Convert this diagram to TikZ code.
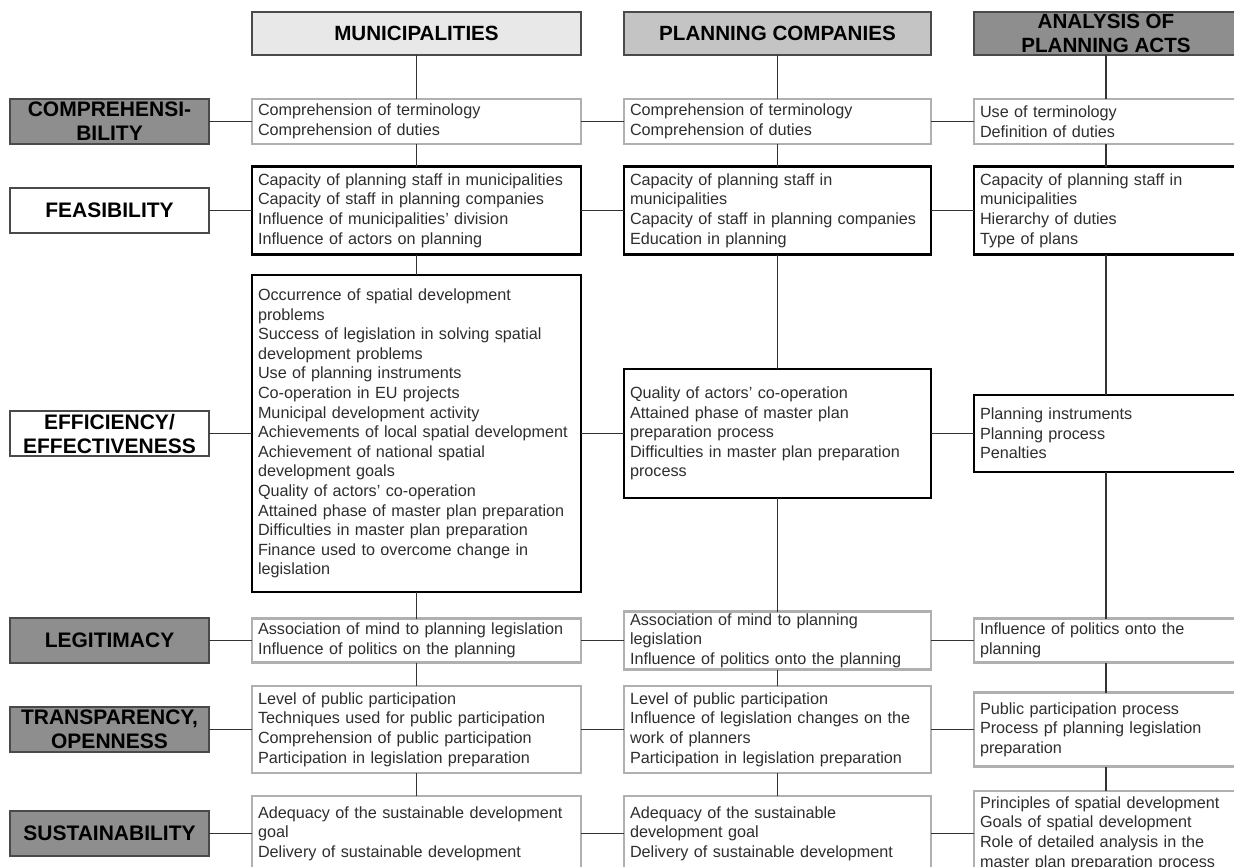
\documentclass[tikz,border=0pt]{standalone}
\usepackage{fontspec}
\setmainfont{Liberation Sans}
\usepackage{tikz}
\usetikzlibrary{positioning}
\usepackage{xcolor}
\definecolor{HeadLight}{HTML}{E8E8E8}
\definecolor{HeadMid}{HTML}{C4C4C4}
\definecolor{HeadDark}{HTML}{8E8E8E}
\definecolor{FrameDark}{HTML}{4A4A4A}
\definecolor{FrameLight}{HTML}{B0B0B0}
\definecolor{LinkGray}{HTML}{333333}
\definecolor{TextGray}{HTML}{2E2E2E}
\tikzset{
  headnode/.style={draw=FrameDark,line width=1.3pt,outer sep=0pt,inner sep=0pt,minimum height=43pt,align=center,font=\fontsize{20.6}{24}\selectfont\bfseries},
  critnode/.style={draw=FrameDark,line width=1.3pt,outer sep=0pt,inner sep=0pt,minimum width=199pt,text width=195pt,minimum height=45pt,align=center,font=\fontsize{21}{24}\selectfont\bfseries},
  critdark/.style={critnode,fill=HeadDark},
  critlight/.style={critnode,fill=white},
  itembox/.style={draw=FrameLight,line width=2.2pt,fill=white,outer sep=0pt,inner xsep=6pt,inner ysep=0pt,align=left,text=TextGray,font=\fontsize{16.2}{19.6}\selectfont},
  keybox/.style={itembox,draw=black,line width=2.6pt},
  colone/.style={text width=317pt},
  coltwo/.style={text width=295pt},
  colthree/.style={text width=252pt},
  link/.style={draw=LinkGray,line width=1.8pt}
}
\begin{document}
\begin{tikzpicture}[x=1pt,y=-1pt,node distance=44pt and 43pt]
\useasboundingbox (0,0) rectangle (1234,867);
\clip (0,0) rectangle (1234,867);
% criteria on the left
\node[critdark] (kComp) at (109.5,121.5) {COMPREHENSI-\\BILITY};
\node[critlight] (kFeas) at (109.5,210.5) {FEASIBILITY};
\node[critlight] (kEff) at (109.5,433.5) {EFFICIENCY/\\EFFECTIVENESS};
\node[critdark] (kLeg) at (109.5,640.5) {LEGITIMACY};
\node[critdark] (kTrans) at (109.5,729.5) {TRANSPARENCY,\\OPENNESS};
\node[critdark] (kSust) at (109.5,833.5) {SUSTAINABILITY};
% municipalities
\node[itembox,colone,minimum height=45pt,right=of kComp] (mComp) {Comprehension of terminology\\Comprehension of duties};
\node[keybox,colone,minimum height=88pt,right=of kFeas] (mFeas) {Capacity of planning staff in municipalities\\Capacity of staff in planning companies\\Influence of municipalities' division\\Influence of actors on planning};
\node[keybox,colone,minimum height=317pt,right=of kEff] (mEff) {Occurrence of spatial development\\problems\\Success of legislation in solving spatial\\development problems\\Use of planning instruments\\Co-operation in EU projects\\Municipal development activity\\Achievements of local spatial development\\Achievement of national spatial\\development goals\\Quality of actors' co-operation\\Attained phase of master plan preparation\\Difficulties in master plan preparation\\Finance used to overcome change in\\legislation};
\node[itembox,colone,minimum height=44pt,right=of kLeg] (mLeg) {Association of mind to planning legislation\\Influence of politics on the planning};
\node[itembox,colone,minimum height=87pt,right=of kTrans] (mTrans) {Level of public participation\\Techniques used for public participation\\Comprehension of public participation\\Participation in legislation preparation};
\node[itembox,colone,minimum height=75pt,right=of kSust] (mSust) {Adequacy of the sustainable development\\goal\\Delivery of sustainable development};
\node[headnode,fill=HeadLight,minimum width=329pt,above=of mComp] (hMun) {MUNICIPALITIES};
% planning companies
\node[itembox,coltwo,minimum height=45pt,right=of mComp] (pComp) {Comprehension of terminology\\Comprehension of duties};
\node[keybox,coltwo,minimum height=88pt,right=of mFeas] (pFeas) {Capacity of planning staff in\\municipalities\\Capacity of staff in planning companies\\Education in planning};
\node[keybox,coltwo,minimum height=129pt,right=of mEff] (pEff) {Quality of actors' co-operation\\Attained phase of master plan\\preparation process\\Difficulties in master plan preparation\\process};
\node[itembox,coltwo,minimum height=58pt,right=of mLeg] (pLeg) {Association of mind to planning\\legislation\\Influence of politics onto the planning};
\node[itembox,coltwo,minimum height=87pt,right=of mTrans] (pTrans) {Level of public participation\\Influence of legislation changes on the\\work of planners\\Participation in legislation preparation};
\node[itembox,coltwo,minimum height=75pt,right=of mSust] (pSust) {Adequacy of the sustainable\\development goal\\Delivery of sustainable development};
\node[headnode,fill=HeadMid,minimum width=307pt,above=of pComp] (hPlan) {PLANNING COMPANIES};
% analysis of planning acts
\node[itembox,colthree,minimum height=45pt,right=of pComp] (aComp) {Use of terminology\\Definition of duties};
\node[keybox,colthree,minimum height=88pt,right=of pFeas] (aFeas) {Capacity of planning staff in\\municipalities\\Hierarchy of duties\\Type of plans};
\node[keybox,colthree,minimum height=77pt,right=of pEff] (aEff) {Planning instruments\\Planning process\\Penalties};
\node[itembox,colthree,minimum height=44pt,right=of pLeg] (aLeg) {Influence of politics onto the\\planning};
\node[itembox,colthree,minimum height=74pt,right=of pTrans] (aTrans) {Public participation process\\Process pf planning legislation\\preparation};
\node[itembox,colthree,minimum height=85pt,right=of pSust] (aSust) {Principles of spatial development\\Goals of spatial development\\Role of detailed analysis in the\\master plan preparation process};
\node[headnode,fill=HeadDark,minimum width=264pt,above=of aComp] (hAct) {ANALYSIS OF\\PLANNING ACTS};
% columns
\draw[link] (hMun) -- (mComp) (mComp) -- (mFeas) (mFeas) -- (mEff) (mEff) -- (mLeg) (mLeg) -- (mTrans) (mTrans) -- (mSust);
\draw[link] (hPlan) -- (pComp) (pComp) -- (pFeas) (pFeas) -- (pEff) (pEff) -- (pLeg) (pLeg) -- (pTrans) (pTrans) -- (pSust);
\draw[link] (hAct) -- (aComp) (aComp) -- (aFeas) (aFeas) -- (aEff) (aEff) -- (aLeg) (aLeg) -- (aTrans) (aTrans) -- (aSust);
% rows
\draw[link] (kComp) -- (mComp) (mComp) -- (pComp) (pComp) -- (aComp);
\draw[link] (kFeas) -- (mFeas) (mFeas) -- (pFeas) (pFeas) -- (aFeas);
\draw[link] (kEff) -- (mEff) (mEff) -- (pEff) (pEff) -- (aEff);
\draw[link] (kLeg) -- (mLeg) (mLeg) -- (pLeg) (pLeg) -- (aLeg);
\draw[link] (kTrans) -- (mTrans) (mTrans) -- (pTrans) (pTrans) -- (aTrans);
\draw[link] (kSust) -- (mSust) (mSust) -- (pSust) (pSust) -- (aSust);
\end{tikzpicture}
\end{document}
